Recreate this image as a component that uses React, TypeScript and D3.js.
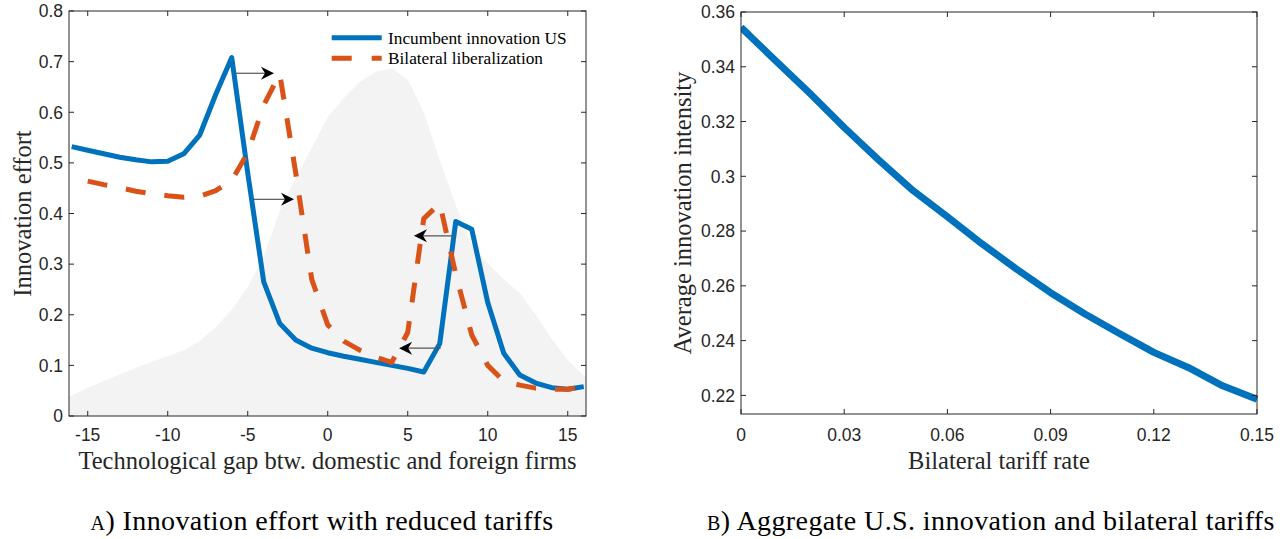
import React from "react";
import * as d3 from "d3";

// Panel A: innovation effort by technological gap
const gapValues = [-16, -15, -14, -13, -12, -11, -10, -9, -8, -7, -6, -5, -4, -3, -2, -1, 0, 1, 2, 3, 4, 5, 6, 7, 8, 9, 10, 11, 12, 13, 14, 15, 16];
const incumbentUS = [0.532, 0.525, 0.518, 0.511, 0.506, 0.502, 0.503, 0.518, 0.555, 0.635, 0.708, 0.48, 0.265, 0.183, 0.15, 0.134, 0.125, 0.118, 0.112, 0.106, 0.1, 0.094, 0.087, 0.143, 0.384, 0.369, 0.224, 0.124, 0.081, 0.065, 0.056, 0.053, 0.058];
const liberalGap = [-15, -14, -13, -12, -11, -10, -9, -8, -7, -6, -5, -4, -3, -2, -1, 0, 1, 2, 3, 4, 5, 6, 7, 8, 9, 10, 11, 12, 13, 14, 15, 16];
const bilateralLib = [0.464, 0.457, 0.451, 0.444, 0.439, 0.435, 0.432, 0.434, 0.445, 0.465, 0.52, 0.614, 0.676, 0.48, 0.27, 0.18, 0.148, 0.13, 0.116, 0.106, 0.165, 0.39, 0.42, 0.28, 0.16, 0.1, 0.069, 0.061, 0.055, 0.053, 0.053, 0.058];
const gapDensity = [0.04, 0.056, 0.069, 0.082, 0.095, 0.107, 0.118, 0.13, 0.148, 0.176, 0.21, 0.255, 0.315, 0.405, 0.47, 0.53, 0.59, 0.628, 0.66, 0.68, 0.687, 0.664, 0.6, 0.505, 0.417, 0.338, 0.302, 0.27, 0.243, 0.2, 0.152, 0.11, 0.08];
const shiftFrom = [-5.86, -4.65, 8.0, 7.06];
const shiftTo = [-3.36, -2.11, 5.39, 4.46];
const shiftLevel = [0.677, 0.428, 0.356, 0.134];
const gapTicks = [-15, -10, -5, 0, 5, 10, 15];
const effortTicks = [0, 0.1, 0.2, 0.3, 0.4, 0.5, 0.6, 0.7, 0.8];
const legendLabels = ["Incumbent innovation US", "Bilateral liberalization"];

// Panel B: aggregate innovation by tariff rate
const tariffRates = [0, 0.01, 0.02, 0.03, 0.04, 0.05, 0.06, 0.07, 0.08, 0.09, 0.1, 0.11, 0.12, 0.13, 0.14, 0.15];
const avgInnovation = [0.3544, 0.3423, 0.3303, 0.3178, 0.306, 0.2948, 0.2852, 0.2754, 0.2662, 0.2575, 0.2497, 0.2426, 0.2357, 0.2302, 0.2235, 0.2186];
const tariffTicks = [0, 0.03, 0.06, 0.09, 0.12, 0.15];
const intensityTicks = [0.22, 0.24, 0.26, 0.28, 0.3, 0.32, 0.34, 0.36];

const BLUE = "#0072BD";
const ORANGE = "#D95319";
const AXIS = "#262626";
const SANS = "Liberation Sans";
const SERIF = "Liberation Serif";

// plain hyphen-minus for negative tick labels
const fmt = (v: number) => String(+v.toFixed(4));

type Box = { x0: number; x1: number; y0: number; y1: number };

function Frame({ box, x, y, xt, yt }: { box: Box; x: any; y: any; xt: number[]; yt: number[] }) {
  const tl = 5;
  return (
    <g>
      <rect x={box.x0} y={box.y0} width={box.x1 - box.x0} height={box.y1 - box.y0} fill="none" stroke={AXIS} strokeWidth={1} />
      {xt.map((t) => (
        <g key={"x" + t}>
          <line x1={x(t)} x2={x(t)} y1={box.y1} y2={box.y1 - tl} stroke={AXIS} />
          <line x1={x(t)} x2={x(t)} y1={box.y0} y2={box.y0 + tl} stroke={AXIS} />
          <text x={x(t)} y={441} textAnchor="middle" fontFamily={SANS} fontSize={17.5} fill={AXIS}>
            {fmt(t)}
          </text>
        </g>
      ))}
      {yt.map((t) => (
        <g key={"y" + t}>
          <line x1={box.x0} x2={box.x0 + tl} y1={y(t)} y2={y(t)} stroke={AXIS} />
          <line x1={box.x1} x2={box.x1 - tl} y1={y(t)} y2={y(t)} stroke={AXIS} />
          <text x={box.x0 - 6} y={y(t)} dy="0.36em" textAnchor="end" fontFamily={SANS} fontSize={17.5} fill={AXIS}>
            {fmt(t)}
          </text>
        </g>
      ))}
    </g>
  );
}

export default function App() {
  const A: Box = { x0: 69, x1: 586, y0: 11, y1: 416 };
  const B: Box = { x0: 741, x1: 1257, y0: 12, y1: 414 };

  const xa = d3.scaleLinear().domain([-16.17, 16.14]).range([A.x0, A.x1]);
  const ya = d3.scaleLinear().domain([0, 0.8]).range([A.y1, A.y0]);
  const xb = d3.scaleLinear().domain([0, 0.15]).range([B.x0, B.x1]);
  const yb = d3.scaleLinear().domain([0.2132, 0.36]).range([B.y1, B.y0]);

  const lineA = d3.line<[number, number]>().x((d) => xa(d[0])).y((d) => ya(d[1]));
  const areaA = d3
    .area<[number, number]>()
    .x((d) => xa(d[0]))
    .y0(ya(0))
    .y1((d) => ya(d[1]));
  const lineB = d3.line<[number, number]>().x((d) => xb(d[0])).y((d) => yb(d[1]));

  // density shading runs edge to edge of the axes
  const [dLo, dHi] = xa.domain();
  const dens: [number, number][] = [
    [dLo, gapDensity[0]],
    ...gapValues.map((g, i) => [g, gapDensity[i]] as [number, number]),
    [dHi, gapDensity[gapDensity.length - 1]],
  ];
  const bluePts: [number, number][] = gapValues.map((g, i) => [g, incumbentUS[i]]);
  const orangePts: [number, number][] = liberalGap.map((g, i) => [g, bilateralLib[i]]);
  const tariffPts: [number, number][] = tariffRates.map((t, i) => [t, avgInnovation[i]]);

  const arrowHead = "M0,0 L-13,-6.5 L-9,0 L-13,6.5 Z";

  return (
    <svg
      width={1284}
      height={539}
      style={{ position: "absolute", left: 0, top: 0, display: "block", background: "#fff" }}
    >
      <defs>
        <clipPath id="clipA">
          <rect x={A.x0} y={A.y0} width={A.x1 - A.x0} height={A.y1 - A.y0} />
        </clipPath>
        <clipPath id="clipB">
          <rect x={B.x0} y={B.y0 - 4} width={B.x1 - B.x0 + 4} height={B.y1 - B.y0 + 4} />
        </clipPath>
      </defs>

      {/* Panel A */}
      <g clipPath="url(#clipA)">
        <path d={areaA(dens) || ""} fill="#F3F3F3" />
        <path d={lineA(bluePts) || ""} fill="none" stroke={BLUE} strokeWidth={5} strokeLinejoin="round" />
        <path
          d={lineA(orangePts) || ""}
          fill="none"
          stroke={ORANGE}
          strokeWidth={5}
          strokeDasharray="20 19"
          strokeLinejoin="round"
        />
        {shiftFrom.map((f, i) => {
          const x0 = xa(f);
          const x1 = xa(shiftTo[i]);
          const yy = ya(shiftLevel[i]);
          const dir = x1 > x0 ? 1 : -1;
          return (
            <g key={"arr" + i}>
              <line x1={x0} x2={x1 - dir * 9} y1={yy} y2={yy} stroke="#555" strokeWidth={1.2} />
              <path d={arrowHead} transform={`translate(${x1},${yy}) scale(${dir},1)`} fill="#000" />
            </g>
          );
        })}
      </g>
      <Frame box={A} x={xa} y={ya} xt={gapTicks} yt={effortTicks} />

      {/* legend */}
      <g>
        <line x1={331.7} x2={381.7} y1={37.7} y2={37.7} stroke={BLUE} strokeWidth={5} />
        <line x1={331.7} x2={381.7} y1={58.3} y2={58.3} stroke={ORANGE} strokeWidth={5} strokeDasharray="20 20" />
        <text x={388} y={43.8} fontFamily={SERIF} fontSize={17.3} fill="#000">
          {legendLabels[0]}
        </text>
        <text x={388} y={64.4} fontFamily={SERIF} fontSize={17.3} fill="#000">
          {legendLabels[1]}
        </text>
      </g>

      <text x={(A.x0 + A.x1) / 2} y={468.5} textAnchor="middle" fontFamily={SERIF} fontSize={24.5} fill={AXIS}>
        Technological gap btw. domestic and foreign firms
      </text>
      <text
        transform={`translate(31,${(A.y0 + A.y1) / 2}) rotate(-90)`}
        textAnchor="middle"
        fontFamily={SERIF}
        fontSize={24.5}
        fill={AXIS}
      >
        Innovation effort
      </text>

      {/* Panel B */}
      <g clipPath="url(#clipB)">
        <path d={lineB(tariffPts) || ""} fill="none" stroke={BLUE} strokeWidth={7} strokeLinejoin="round" />
      </g>
      <Frame box={B} x={xb} y={yb} xt={tariffTicks} yt={intensityTicks} />
      <text x={(B.x0 + B.x1) / 2} y={468.5} textAnchor="middle" fontFamily={SERIF} fontSize={24.5} fill={AXIS}>
        Bilateral tariff rate
      </text>
      <text
        transform={`translate(691,${(B.y0 + B.y1) / 2}) rotate(-90)`}
        textAnchor="middle"
        fontFamily={SERIF}
        fontSize={24.5}
        fill={AXIS}
      >
        Average innovation intensity
      </text>

      {/* captions */}
      <text x={322} y={530} textAnchor="middle" fontFamily={SERIF} fontSize={28} letterSpacing={0.4} fill="#000">
        <tspan style={{ fontVariant: "small-caps" }}>a</tspan>) Innovation effort with reduced tariffs
      </text>
      <text x={991} y={530} textAnchor="middle" fontFamily={SERIF} fontSize={28} letterSpacing={0.4} fill="#000">
        <tspan style={{ fontVariant: "small-caps" }}>b</tspan>) Aggregate U.S. innovation and bilateral tariffs
      </text>
    </svg>
  );
}
